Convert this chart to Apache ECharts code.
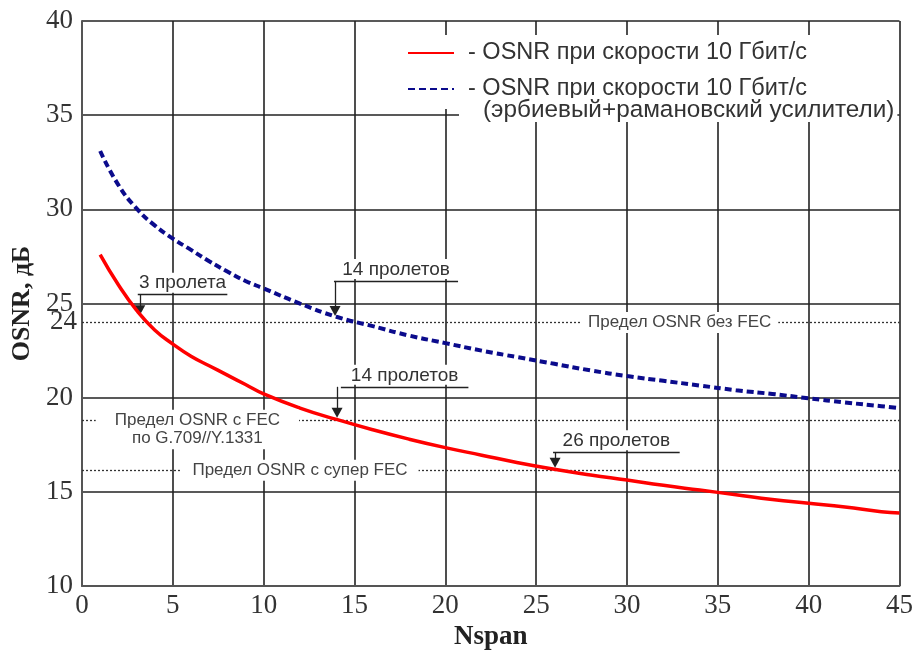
<!DOCTYPE html>
<html>
<head>
<meta charset="utf-8">
<title>OSNR / Nspan</title>
<script src="https://cdn.jsdelivr.net/npm/echarts@6/dist/echarts.min.js"></script>
<style>
  html, body { margin: 0; padding: 0; background: #fff; }
  #chart { width: 916px; height: 656px; }
</style>
</head>
<body>
<div id="chart"></div>
<script>
// число пролетов
const nspan = [1, 2, 3, 4, 5, 6, 7, 8, 9, 10, 12, 14, 16, 18, 20, 22, 24, 26, 28, 30, 32, 34, 36, 38, 40, 42, 44, 45]
// OSNR при 10 Гбит/с (красная)
const osnrEdfa = [27.6, 26.0, 24.65, 23.6, 22.85, 22.2, 21.7, 21.2, 20.7, 20.2, 19.45, 18.85, 18.3, 17.8, 17.35, 16.95, 16.55, 16.2, 15.9, 15.63, 15.35, 15.1, 14.85, 14.6, 14.4, 14.2, 13.95, 13.88]
// OSNR при 10 Гбит/с, эрбиевый+рамановский (синяя пунктирная)
const osnrRaman = [33.1, 31.3, 30.05, 29.15, 28.45, 27.85, 27.25, 26.7, 26.2, 25.8, 25.0, 24.3, 23.8, 23.3, 22.9, 22.5, 22.15, 21.8, 21.45, 21.15, 20.9, 20.65, 20.4, 20.2, 19.97, 19.75, 19.55, 19.45]
// пороги OSNR
const limitNoFec = 24
const limitFec = 18.8
const limitSuperFec = 16.15
// доп. подпись на оси Y
const extraYTicks = [24]

const nameRed = "- OSNR при скорости 10 Гбит/с"
const nameBlue = "OSNR raman"
const nameNote = "note"

const sans = "Liberation Sans"
const serif = "Liberation Serif"

// стрелки "N пролетов"
const arrowNotes = [
	{ text: "3 пролета", at: 3.18, from: 25.47, to: 24.65, shelf: [3.07, 8.0] },
	{ text: "14 пролетов", at: 13.93, from: 26.2, to: 24.6, shelf: [13.87, 20.7] },
	{ text: "14 пролетов", at: 14.04, from: 20.58, to: 19.2, shelf: [14.25, 21.27] },
	{ text: "26 пролетов", at: 26.04, from: 17.1, to: 16.55, shelf: [25.93, 32.9] },
]

const dotted = { color: "#333", width: 1.3, type: [2, 2] }
const hidden = { color: "rgba(255,255,255,0)", width: 0 }
const limitLabel = (text, pos, pad, dist) => ({
	show: true,
	position: pos,
	formatter: text,
	fontFamily: sans,
	fontSize: 17,
	color: "#444",
	backgroundColor: "#fff",
	padding: pad,
	distance: dist || 0,
})

let guides = [
	[{ coord: [0, limitNoFec] }, { coord: [45, limitNoFec], lineStyle: dotted }],
	[{ coord: [0, limitFec] }, { coord: [45, limitFec], lineStyle: dotted }],
	[{ coord: [0, limitSuperFec] }, { coord: [45, limitSuperFec], lineStyle: dotted }],
	[
		{ coord: [27.4, limitNoFec], lineStyle: hidden, label: limitLabel("Предел OSNR без FEC", "insideMiddle", [2, 7]) },
		{ coord: [38.4, limitNoFec] },
	],
	[
		{ coord: [1.2, limitFec], lineStyle: hidden, label: limitLabel("Предел OSNR с FEC", "insideMiddle", [0, 19, 4, 19]) },
		{ coord: [11.5, limitFec] },
	],
	[
		{ coord: [1.2, limitFec], lineStyle: hidden, label: limitLabel("по G.709//Y.1331", "insideMiddleBottom", [1, 6, 3, 6], 8) },
		{ coord: [11.5, limitFec] },
	],
	[
		{ coord: [6, limitSuperFec], lineStyle: hidden, label: limitLabel("Предел OSNR с супер FEC", "insideMiddle", [2, 11]) },
		{ coord: [18, limitSuperFec] },
	],
]
arrowNotes.forEach((a) => {
	guides.push([
		{
			coord: [a.shelf[0], a.from],
			lineStyle: { color: "#222", width: 1.3, type: "solid" },
			label: {
				show: true,
				position: "insideMiddleTop",
				formatter: a.text,
				fontFamily: sans,
				fontSize: 19,
				color: "#333",
				backgroundColor: "#fff",
				padding: [1, 4, 0, 4],
				distance: 2,
			},
		},
		{ coord: [a.shelf[1], a.from] },
	])
	guides.push([
		{ coord: [a.at, a.from], lineStyle: { color: "#222", width: 1.3, type: "solid" }, symbol: "none" },
		{ coord: [a.at, a.to], symbol: "triangle", symbolSize: [11, 10] },
	])
})

const myChart = echarts.init(document.getElementById("chart"))
const legendBase = {
	orient: "vertical",
	left: 395,
	itemWidth: 46,
	itemHeight: 14,
	itemGap: 0,
	selectedMode: false,
	itemStyle: { opacity: 0 },
	textStyle: { fontFamily: sans, fontSize: 23.5, color: "#333", lineHeight: 24, padding: [0, 0, 0, 9] },
}

let option = {
	animation: false,
	backgroundColor: "#fff",
	grid: { left: 82, right: 13, top: 21, bottom: 65 },
	legend: [
		Object.assign({}, legendBase, {
			data: [nameRed],
			top: 35,
			padding: [6, 80, 12, 12],
			backgroundColor: "#fff",
		}),
		Object.assign({}, legendBase, {
			data: [nameBlue],
			top: 71,
			padding: [6, 80, 8, 12],
			backgroundColor: "#fff",
			formatter: () => nameRed,
		}),
		Object.assign({}, legendBase, {
			data: [nameNote],
			top: 98,
			padding: [0, 0, 0, 12],
			formatter: () => "(эрбиевый+рамановский усилители)",
			textStyle: Object.assign({}, legendBase.textStyle, { fontSize: 24.3, backgroundColor: "#fff", padding: [0, 3, 0, 24] }),
		}),
	],
	xAxis: {
		type: "value",
		min: 0,
		max: 45,
		interval: 5,
		name: "Nspan",
		nameLocation: "middle",
		nameGap: 31,
		nameTextStyle: { fontFamily: serif, fontSize: 27, fontWeight: "bold", color: "#222" },
		axisLine: { lineStyle: { color: "#555", width: 2 } },
		axisTick: { show: false },
		axisLabel: { fontFamily: serif, fontSize: 27, color: "#333", margin: 6 },
		splitLine: { lineStyle: { color: "#222", width: 1.6 } },
	},
	yAxis: [
		{
			type: "value",
			min: 10,
			max: 40,
			interval: 5,
			name: "OSNR, дБ",
			nameLocation: "middle",
			nameRotate: 90,
			nameGap: 44,
			nameTextStyle: { fontFamily: serif, fontSize: 26, fontWeight: "bold", color: "#222" },
			axisLine: { show: true, lineStyle: { color: "#555", width: 2 } },
			axisTick: { show: false },
			axisLabel: { fontFamily: serif, fontSize: 27, color: "#333", margin: 9 },
			splitLine: { lineStyle: { color: "#222", width: 1.6 } },
		},
		{
			type: "value",
			min: 10,
			max: 40,
			interval: 1,
			position: "left",
			axisLine: { show: false },
			axisTick: { show: false },
			splitLine: { show: false },
			axisLabel: {
				fontFamily: serif,
				fontSize: 27,
				color: "#333",
				margin: 5,
				formatter: (v) => (extraYTicks.includes(v) ? String(v) : ""),
			},
		},
	],
	series: [
		{
			name: nameRed,
			type: "line",
			data: nspan.map((n, i) => [n, osnrEdfa[i]]),
			showSymbol: false,
			symbol: "none",
			smooth: 0.5,
			color: "#ff0000",
			lineStyle: { color: "#ff0000", width: 3.5 },
			z: 6,
		},
		{
			name: nameBlue,
			type: "line",
			data: nspan.map((n, i) => [n, osnrRaman[i]]),
			showSymbol: false,
			symbol: "none",
			smooth: 0.5,
			color: "#0b0b8c",
			lineStyle: { color: "#0b0b8c", width: 4, type: [7, 4] },
			z: 6,
		},
		{
			name: nameNote,
			type: "line",
			data: [],
			color: "rgba(0,0,0,0)",
			lineStyle: { color: "rgba(0,0,0,0)" },
		},
		{
			name: "guides",
			type: "line",
			data: [],
			z: 2,
			markLine: {
				silent: true,
				animation: false,
				z: 2,
				symbol: "none",
				lineStyle: { color: "#333", width: 1.3 },
				label: { show: false },
				data: guides,
			},
		},
	],
}
myChart.setOption(option)
</script>
</body>
</html>
